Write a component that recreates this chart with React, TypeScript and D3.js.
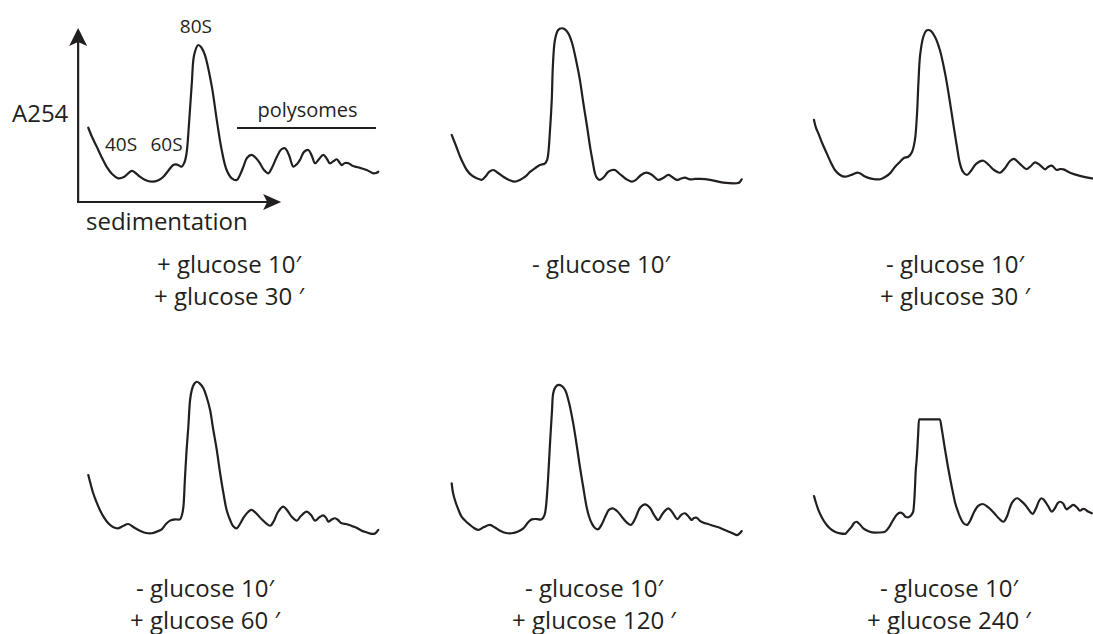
import React, { useEffect } from "react";
import * as d3 from "d3";

type Pt = [number, number];

// x: position in gradient (% of sedimentation), y: A254 (arbitrary units)
const plusGlucose30: Pt[] = [
  [0.1, 38.9], [1.4, 33.1], [3.0, 27.1], [4.5, 21.3], [6.4, 14.6], [8.3, 10.0], [10.4, 7.3], [12.4, 8.1],
  [15.1, 11.9], [16.6, 10.3], [17.9, 8.3], [19.7, 6.3], [22.0, 5.2], [24.1, 5.9], [26.0, 8.3], [27.6, 11.9],
  [29.4, 15.6], [30.7, 15.9], [32.3, 14.6], [33.3, 17.5], [34.0, 23.1], [34.8, 40.6], [35.8, 66.9], [36.6, 84.4],
  [38.0, 90.6], [39.1, 89.1], [40.3, 84.4], [42.7, 64.6], [44.4, 43.8], [46.1, 25.0], [47.8, 12.5], [49.6, 7.3],
  [51.3, 6.3], [52.4, 9.4], [53.6, 14.6], [54.8, 20.0], [56.4, 21.9], [57.9, 20.0], [59.3, 16.7], [60.7, 12.5],
  [62.2, 10.4], [63.4, 13.8], [65.1, 20.6], [66.6, 25.3], [67.9, 26.1], [69.3, 21.9], [70.8, 14.6], [72.1, 16.3],
  [73.1, 18.8], [74.5, 23.8], [76.0, 25.0], [77.2, 21.3], [78.3, 16.7], [79.7, 19.4], [81.1, 21.9], [82.4, 19.4],
  [83.4, 16.7], [84.7, 18.1], [85.8, 19.2], [86.6, 17.5], [87.5, 15.6], [88.6, 16.9], [89.8, 16.7], [91.0, 15.3],
  [92.1, 14.6], [93.8, 13.8], [96.1, 12.5], [98.4, 10.4], [99.3, 10.6], [100.1, 11.4],
];

const minusGlucose10: Pt[] = [
  [-0.1, 34.4], [1.4, 27.5], [2.8, 20.8], [3.8, 16.9], [5.1, 12.5], [6.6, 9.4], [8.5, 7.3], [9.3, 6.9],
  [10.2, 6.3], [11.7, 8.8], [12.8, 11.3], [14.2, 12.5], [15.9, 10.6], [17.7, 8.3], [19.7, 6.3], [21.7, 5.2],
  [23.4, 6.3], [25.2, 8.3], [26.9, 11.3], [28.6, 13.6], [30.3, 15.6], [32.1, 16.7], [32.8, 18.8], [33.2, 22.9],
  [33.8, 37.5], [34.4, 56.3], [34.8, 78.1], [35.5, 93.8], [36.6, 100.0], [37.8, 101.1], [39.0, 100.3], [40.1, 97.9],
  [41.4, 91.9], [43.0, 79.2], [44.1, 68.8], [45.3, 54.2], [46.6, 39.4], [47.6, 27.1], [48.6, 16.9], [49.3, 10.4],
  [50.0, 7.5], [51.0, 6.3], [52.4, 8.1], [53.8, 11.3], [55.2, 12.5], [56.2, 12.5], [57.9, 10.0], [60.0, 6.9],
  [62.0, 5.2], [63.4, 6.3], [65.2, 9.4], [67.1, 10.8], [69.0, 9.4], [71.1, 6.3], [72.8, 7.5], [74.6, 9.4],
  [75.9, 8.1], [77.5, 6.3], [79.0, 7.2], [80.3, 7.7], [82.1, 6.6], [83.8, 6.9], [85.5, 6.9], [89.0, 6.3],
  [93.6, 4.6], [98.2, 4.2], [99.1, 4.7], [99.9, 6.7],
];

const plusGlucose30b: Pt[] = [
  [0, 43.8], [0.7, 38.8], [1.5, 35.4], [2.8, 29.4], [4.4, 22.9], [5.9, 16.9], [7.2, 12.5], [9.0, 9.4],
  [10.7, 8.3], [12.8, 9.4], [15.3, 10.8], [17.2, 8.8], [19.3, 7.3], [21.0, 6.7], [22.8, 6.7], [24.5, 8.1],
  [26.2, 10.4], [27.9, 14.4], [29.7, 17.7], [31.0, 20.0], [32.5, 20.8], [33.8, 23.8], [34.8, 31.3], [35.5, 46.9],
  [36.0, 66.7], [36.6, 84.4], [37.7, 95.8], [38.6, 99.4], [39.4, 100.0], [40.3, 99.4], [41.7, 95.8], [43.4, 87.5],
  [45.2, 72.9], [46.6, 58.1], [48.0, 41.7], [49.3, 26.9], [50.3, 16.7], [51.4, 11.3], [52.7, 9.4], [54.1, 11.9],
  [55.9, 16.3], [58.4, 18.3], [60.3, 15.6], [62.1, 12.5], [64.1, 10.8], [65.9, 13.8], [67.6, 18.1], [69.0, 19.4],
  [71.0, 16.3], [73.3, 13.1], [74.8, 15.0], [76.2, 17.3], [77.9, 15.6], [79.7, 12.9], [80.7, 14.4], [82.0, 15.2],
  [83.7, 12.5], [84.8, 13.1], [86.0, 12.9], [88.3, 10.8], [91.7, 8.8], [95.8, 7.3], [100, 6.3],
];

const plusGlucose60: Pt[] = [
  [0.1, 40.6], [0.9, 35.0], [1.8, 29.2], [2.9, 23.8], [4.1, 18.8], [5.5, 14.1], [7.0, 10.4], [8.6, 8.1],
  [10.4, 7.3], [12.1, 8.8], [13.9, 10.0], [15.9, 7.8], [17.9, 5.8], [20.0, 4.4], [22.0, 4.2], [23.8, 5.3],
  [25.4, 6.7], [26.9, 10.0], [28.3, 12.1], [30.0, 12.9], [31.7, 12.9], [32.4, 15.6], [32.9, 20.8], [33.4, 37.5],
  [34.0, 56.3], [34.6, 70.8], [35.2, 87.5], [35.8, 93.8], [36.6, 97.5], [37.5, 98.9], [38.4, 98.1], [39.8, 94.8],
  [40.9, 89.4], [42.1, 81.3], [43.1, 70.0], [44.4, 56.3], [45.5, 42.5], [46.7, 29.2], [47.8, 18.8], [49.0, 12.5],
  [50.0, 8.8], [51.3, 7.3], [52.4, 10.0], [53.8, 14.4], [55.2, 17.5], [56.4, 18.8], [57.9, 16.9], [60.0, 12.8],
  [62.8, 8.9], [64.1, 11.9], [65.5, 17.5], [67.3, 20.8], [68.6, 18.8], [70.3, 14.4], [72.0, 12.1], [73.4, 15.0],
  [75.4, 17.7], [76.9, 15.6], [78.3, 12.1], [79.7, 14.1], [81.1, 15.4], [82.1, 13.8], [82.9, 11.4], [83.8, 12.5],
  [85.2, 13.6], [86.2, 12.5], [87.5, 10.4], [89.0, 10.0], [90.9, 8.8], [92.4, 7.8], [94.4, 5.8], [96.2, 4.7],
  [97.8, 3.8], [99.0, 4.1], [100.1, 6.3],
];

const plusGlucose120: Pt[] = [
  [-0.1, 35.4], [0.3, 30.0], [1.0, 25.0], [2.1, 19.4], [3.3, 14.6], [4.8, 11.6], [6.2, 9.4], [7.6, 7.5],
  [9.1, 6.3], [11.0, 8.1], [13.1, 9.4], [14.8, 7.8], [16.6, 5.8], [18.6, 4.4], [20.6, 4.2], [22.8, 5.3],
  [24.6, 7.3], [26.2, 10.9], [27.5, 12.9], [29.3, 13.1], [30.9, 12.9], [31.9, 15.6], [32.4, 20.8], [33.1, 37.5],
  [33.8, 60.4], [34.5, 81.3], [34.9, 91.7], [35.7, 95.6], [36.7, 96.9], [37.8, 96.3], [39.0, 93.8], [40.3, 86.3],
  [41.8, 72.9], [43.1, 58.1], [44.1, 45.8], [45.3, 32.5], [46.4, 20.8], [47.2, 15.0], [48.2, 10.4], [49.3, 7.5],
  [50.4, 6.7], [51.7, 10.0], [53.1, 15.6], [54.1, 18.8], [55.4, 19.8], [56.9, 18.1], [58.6, 14.4], [60.3, 10.9],
  [61.7, 9.4], [63.1, 13.1], [64.8, 20.0], [66.6, 22.3], [68.3, 20.0], [69.7, 15.6], [71.1, 12.5], [72.8, 16.9],
  [74.6, 19.8], [75.9, 17.5], [77.7, 13.1], [79.0, 15.6], [80.3, 16.7], [81.4, 15.0], [82.7, 12.5], [83.4, 13.8],
  [84.4, 13.9], [85.5, 11.9], [86.7, 10.8], [88.3, 10.0], [90.1, 8.9], [92.1, 7.8], [94.1, 6.3], [96.2, 4.7],
  [98.2, 3.1], [99.0, 3.8], [99.9, 5.6],
];

const plusGlucose240: Pt[] = [
  [0, 27.5], [0.7, 23.1], [1.5, 18.8], [2.8, 13.8], [4.4, 9.4], [5.9, 6.6], [7.2, 5.2], [9.0, 4.1],
  [10.7, 3.8], [11.7, 5.6], [13.0, 8.3], [13.8, 10.6], [14.7, 11.4], [15.5, 10.3], [17.0, 7.3], [19.0, 5.3],
  [21.0, 4.6], [22.8, 4.7], [24.5, 5.2], [25.9, 8.1], [27.3, 12.5], [28.6, 15.9], [29.7, 17.1], [30.7, 16.3],
  [31.7, 14.4], [32.5, 14.2], [33.4, 15.3], [34.2, 17.7], [34.7, 28.1], [35.1, 43.8], [35.4, 50.0], [35.9, 65.6],
  [36.2, 75.4], [43.4, 75.4], [44.1, 68.8], [45.2, 56.3], [46.2, 45.6], [47.5, 33.3], [48.6, 23.8], [49.7, 17.5],
  [50.3, 14.6], [51.4, 10.9], [52.7, 9.4], [53.8, 11.9], [55.2, 17.5], [56.6, 21.3], [58.2, 22.5], [60.0, 20.6],
  [62.1, 16.9], [63.8, 13.4], [65.3, 11.4], [66.6, 15.0], [67.9, 21.9], [69.0, 25.0], [70.1, 26.1], [71.4, 24.4],
  [73.1, 21.3], [74.1, 18.8], [75.4, 16.3], [76.6, 20.0], [77.6, 24.4], [78.5, 26.1], [79.3, 25.0], [80.7, 21.3],
  [82.0, 17.7], [83.1, 20.0], [84.1, 23.1], [84.8, 23.9], [85.9, 22.8], [87.1, 19.2], [88.3, 20.6], [89.4, 21.9],
  [90.7, 20.3], [91.7, 18.3], [92.8, 19.4], [93.4, 19.2], [94.5, 17.8], [95.8, 16.7],
];

const curves: Pt[][] = [plusGlucose30, minusGlucose10, plusGlucose30b, plusGlucose60, plusGlucose120, plusGlucose240];

const conditionLabels: string[][] = [
  ["+ glucose 10′", "+ glucose 30 ′"],
  ["- glucose 10′"],
  ["- glucose 10′", "+ glucose 30 ′"],
  ["- glucose 10′", "+ glucose 60 ′"],
  ["- glucose 10′", "+ glucose 120 ′"],
  ["- glucose 10′", "+ glucose 240 ′"],
];

// annotation labels in panel 1 (data units)
const peakNames = ["40S", "60S", "80S"];
const peakPos: Pt[] = [[11.4, 24.4], [27.1, 24.4], [37.2, 98.1]];
const polysomeBar: Pt[] = [[51.4, 38.8], [99.3, 38.8]];

// layout
const colX = [88, 452, 814];
const rowY = [190, 540];
const labelCx = [229, 601, 955, 205, 594, 949];
const labelBase = [273, 597];
const INK = "#231f20";
const FONT = "'Open Sans', 'Noto Sans', sans-serif";

export default function App() {
  useEffect(() => {
    document.body.style.margin = "0";
  }, []);

  const panels = curves.map((data, i) => {
    const col = i % 3;
    const row = Math.floor(i / 3);
    const x = d3.scaleLinear().domain([0, 100]).range([colX[col], colX[col] + 290]);
    const y = d3.scaleLinear().domain([0, 100]).range([rowY[row], rowY[row] - 160]);
    const line = d3
      .line<Pt>()
      .x((d) => x(d[0]))
      .y((d) => y(d[1]))
      .curve(i === 5 ? d3.curveMonotoneX : d3.curveCatmullRom.alpha(0.5));
    return { data, x, y, line, col, row, i };
  });

  const p0 = panels[0];
  const ax0 = p0.x(-3.4);
  const ay0 = p0.y(-7.5);
  const ayTop = p0.y(101.2);
  const axRight = p0.x(66.6);

  return (
    <svg
      width={1093}
      height={634}
      viewBox="0 0 1093 634"
      style={{ position: "absolute", left: 0, top: 0, background: "#fff" }}
      fontFamily={FONT}
    >
      <rect width={1093} height={634} fill="#fff" />
      {panels.map((p) => (
        <path
          key={"c" + p.i}
          d={p.line(p.data) || ""}
          fill="none"
          stroke={INK}
          strokeWidth={2.2}
          strokeLinejoin="round"
          strokeLinecap="round"
        />
      ))}

      {/* axes in first panel */}
      <line x1={ax0} y1={ay0} x2={ax0} y2={ayTop + 12} stroke={INK} strokeWidth={2.2} />
      <line x1={ax0 - 1.1} y1={ay0} x2={axRight - 12} y2={ay0} stroke={INK} strokeWidth={2.2} />
      <path
        d={`M${ax0},${ayTop} L${ax0 + 9},${ayTop + 18} L${ax0},${ayTop + 14} L${ax0 - 9},${ayTop + 18} Z`}
        fill={INK}
      />
      <path
        d={`M${axRight},${ay0} L${axRight - 18},${ay0 + 8} L${axRight - 14},${ay0} L${axRight - 18},${ay0 - 8} Z`}
        fill={INK}
      />
      <text x={12} y={122} fontSize={24} fill={INK}>A254</text>
      <text x={86} y={230} fontSize={24} fill={INK}>sedimentation</text>

      {peakNames.map((n, k) => (
        <text
          key={n}
          x={p0.x(peakPos[k][0])}
          y={p0.y(peakPos[k][1])}
          fontSize={19}
          textAnchor="middle"
          fill={INK}
        >
          {n}
        </text>
      ))}
      <text x={p0.x(75.7)} y={p0.y(45.6)} fontSize={20} textAnchor="middle" fill={INK}>
        polysomes
      </text>
      <line
        x1={p0.x(polysomeBar[0][0])}
        y1={p0.y(polysomeBar[0][1])}
        x2={p0.x(polysomeBar[1][0])}
        y2={p0.y(polysomeBar[1][1])}
        stroke={INK}
        strokeWidth={2}
      />

      {conditionLabels.map((lines, i) => {
        const row = Math.floor(i / 3);
        return (
          <text key={"l" + i} fontSize={24} textAnchor="middle" fill={INK}>
            {lines.map((t, j) => (
              <tspan key={j} x={labelCx[i]} y={labelBase[row] + j * 31.5}>
                {t}
              </tspan>
            ))}
          </text>
        );
      })}
    </svg>
  );
}
